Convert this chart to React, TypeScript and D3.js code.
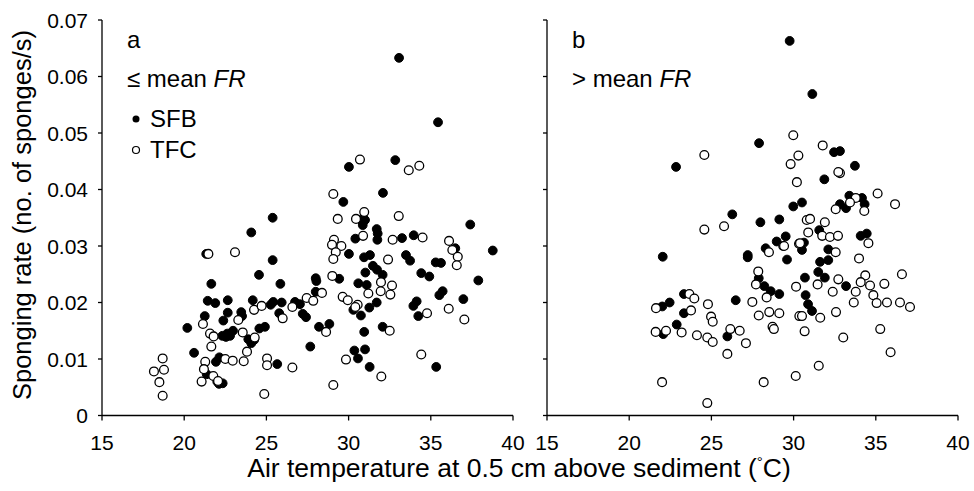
import React from "react";
import * as d3 from "d3";

type P = [number, number];

const xTicks = [15, 20, 25, 30, 35, 40];
const yTicks = [0, 0.01, 0.02, 0.03, 0.04, 0.05, 0.06, 0.07];
const yTickLabels = ["0", "0.01", "0.02", "0.03", "0.04", "0.05", "0.06", "0.07"];

const leftSFB: P[] = [
  [24.08, 0.0324], [25.38, 0.035], [25.38, 0.0275], [24.55, 0.0249], [21.65, 0.0233], [25.85, 0.0233],
  [28.0, 0.0243], [28.0, 0.0219], [21.43, 0.0203], [21.89, 0.0199], [22.65, 0.0204], [24.17, 0.0204],
  [25.42, 0.0201], [25.93, 0.02], [25.26, 0.0196], [26.74, 0.0201], [27.04, 0.0197], [21.25, 0.0176],
  [22.65, 0.0182], [23.47, 0.0183], [23.52, 0.0176], [25.78, 0.0181], [27.21, 0.018], [27.41, 0.0174],
  [22.38, 0.0168], [20.19, 0.0155], [24.57, 0.0154], [24.91, 0.0157], [28.2, 0.0157], [22.32, 0.0141],
  [22.62, 0.0145], [22.97, 0.015], [22.79, 0.0141], [22.54, 0.0139], [23.9, 0.0135], [24.08, 0.0128],
  [24.26, 0.0134], [27.67, 0.0122], [20.6, 0.0111], [22.14, 0.0103], [21.93, 0.0095], [25.66, 0.0091],
  [21.37, 0.0073], [22.01, 0.006], [22.34, 0.0057], [22.12, 0.0056], [21.34, 0.0286],
  [30.02, 0.044], [32.84, 0.0452], [32.09, 0.0394], [29.68, 0.0378], [30.75, 0.0346], [31.0, 0.0346],
  [30.86, 0.0337], [31.71, 0.033], [31.77, 0.0322], [31.75, 0.0311], [30.41, 0.0313], [33.25, 0.0314],
  [33.96, 0.0319], [37.4, 0.0338], [38.77, 0.0292], [30.02, 0.0286], [30.94, 0.028], [31.3, 0.0284],
  [33.49, 0.0284], [33.74, 0.0274], [35.3, 0.0271], [35.62, 0.027], [36.49, 0.0296], [31.48, 0.0265],
  [31.73, 0.0258], [32.07, 0.0249], [31.02, 0.0253], [34.42, 0.0252], [34.91, 0.0246], [29.43, 0.0242],
  [37.89, 0.0239], [28.04, 0.0238], [30.59, 0.0234], [31.1, 0.0231], [31.71, 0.02], [31.26, 0.0191],
  [30.29, 0.0187], [30.75, 0.0177], [35.52, 0.0213], [35.72, 0.022], [34.14, 0.0202], [33.94, 0.0194],
  [34.24, 0.0176], [36.98, 0.0206], [28.83, 0.0162], [30.95, 0.0148], [32.07, 0.0157], [30.35, 0.0115],
  [31.0, 0.0117], [30.57, 0.0101], [31.28, 0.0086], [35.33, 0.0086], [33.07, 0.0633], [35.44, 0.0519],
];

const leftTFC: P[] = [
  [21.47, 0.0286], [23.09, 0.0289], [21.14, 0.0162], [23.29, 0.0169], [24.25, 0.0187], [24.71, 0.0194],
  [21.57, 0.0145], [21.79, 0.014], [21.65, 0.0122], [23.56, 0.0147], [24.29, 0.0138], [23.82, 0.0113],
  [22.5, 0.01], [22.95, 0.0097], [23.62, 0.0096], [21.28, 0.0095], [25.04, 0.0101], [25.04, 0.0089],
  [26.58, 0.0085], [21.2, 0.0082], [21.77, 0.007], [21.06, 0.006], [22.06, 0.0061], [24.87, 0.0038],
  [25.99, 0.0172], [26.58, 0.0192], [27.45, 0.0208], [27.85, 0.0203], [18.69, 0.0101], [18.16, 0.0078],
  [18.77, 0.0081], [18.49, 0.0059], [18.69, 0.0035], [30.69, 0.0453], [33.66, 0.0434], [34.3, 0.0442],
  [29.07, 0.0392], [29.34, 0.0348], [30.45, 0.0348], [30.95, 0.036], [33.05, 0.0353], [30.88, 0.0318],
  [32.68, 0.0311], [34.5, 0.0315], [29.11, 0.0311], [28.99, 0.0302], [29.56, 0.03], [29.22, 0.0289],
  [29.07, 0.0277], [36.11, 0.0309], [36.31, 0.0293], [36.64, 0.0281], [36.58, 0.0266], [32.4, 0.0276],
  [29.01, 0.0247], [28.38, 0.0217], [29.64, 0.021], [29.95, 0.0204], [30.55, 0.0196], [30.41, 0.0192],
  [31.2, 0.0216], [31.97, 0.0236], [31.95, 0.022], [32.64, 0.023], [32.54, 0.0214], [28.63, 0.0148],
  [32.5, 0.015], [34.77, 0.0181], [36.09, 0.0189], [37.04, 0.017], [29.84, 0.0099], [34.42, 0.0108],
  [31.99, 0.0069], [29.07, 0.0054],
];

const rightSFB: P[] = [
  [22.04, 0.0281], [27.21, 0.0284], [27.21, 0.028], [28.3, 0.0296], [28.97, 0.0308], [29.52, 0.0317],
  [29.6, 0.0276], [27.88, 0.0243], [28.22, 0.0229], [28.61, 0.022], [29.13, 0.0215], [23.33, 0.0215],
  [22.46, 0.02], [22.01, 0.0193], [23.33, 0.0181], [22.89, 0.0161], [22.07, 0.0144], [26.48, 0.0204],
  [25.97, 0.014], [27.9, 0.0482], [22.85, 0.044], [26.27, 0.0356], [27.98, 0.0342], [29.76, 0.0663],
  [31.14, 0.0569], [32.46, 0.0466], [32.82, 0.0468], [33.73, 0.0442], [31.87, 0.0418], [29.98, 0.037],
  [30.51, 0.0377], [33.39, 0.0389], [32.82, 0.0374], [33.19, 0.0367], [34.16, 0.0385], [34.32, 0.0374],
  [29.13, 0.0347], [31.56, 0.0328], [30.51, 0.0293], [30.63, 0.0306], [32.11, 0.0294], [31.61, 0.0272],
  [32.11, 0.0275], [31.5, 0.0254], [34.08, 0.0318], [34.45, 0.0322], [30.69, 0.0244], [31.9, 0.0244],
  [30.73, 0.0213], [30.88, 0.0197], [31.12, 0.0185], [33.19, 0.0229],
];

const rightTFC: P[] = [
  [27.85, 0.0255], [27.71, 0.0232], [28.5, 0.0289], [29.37, 0.03], [30.33, 0.0304], [30.15, 0.0228],
  [30.35, 0.0176], [30.13, 0.007], [23.66, 0.0215], [23.96, 0.0207], [21.63, 0.019], [23.76, 0.0186],
  [24.79, 0.0197], [24.98, 0.0175], [25.08, 0.0166], [21.61, 0.0148], [22.24, 0.015], [23.19, 0.0147],
  [24.12, 0.0142], [24.75, 0.0138], [25.08, 0.013], [26.15, 0.0153], [26.72, 0.015], [27.1, 0.0128],
  [25.97, 0.0109], [27.49, 0.0201], [28.36, 0.0209], [27.88, 0.0177], [28.52, 0.0183], [29.13, 0.0181],
  [28.72, 0.0157], [28.8, 0.0153], [22.0, 0.0059], [28.18, 0.0059], [24.75, 0.0022], [24.57, 0.0461],
  [25.77, 0.0335], [24.57, 0.0329], [29.98, 0.0496], [31.77, 0.0478], [30.29, 0.046], [29.82, 0.0445],
  [32.82, 0.0429], [32.72, 0.0431], [30.2, 0.0413], [35.11, 0.0393], [36.17, 0.0374], [33.78, 0.0385],
  [33.43, 0.0377], [32.56, 0.0365], [34.3, 0.0362], [30.8, 0.0346], [31.0, 0.0348], [31.9, 0.0342],
  [30.89, 0.0324], [31.74, 0.0318], [32.21, 0.0316], [32.7, 0.0318], [30.39, 0.0305], [29.42, 0.03],
  [34.55, 0.0305], [32.56, 0.0289], [33.98, 0.0278], [32.72, 0.0241], [34.36, 0.0248], [36.59, 0.025],
  [31.46, 0.0232], [32.38, 0.0219], [32.58, 0.0183], [30.51, 0.0176], [31.62, 0.0173], [30.67, 0.0149],
  [33.02, 0.0138], [31.53, 0.0088], [34.08, 0.0236], [34.65, 0.023], [35.52, 0.0233], [33.78, 0.0219],
  [34.85, 0.0213], [33.66, 0.02], [35.05, 0.0199], [35.68, 0.02], [36.47, 0.02], [37.08, 0.0192],
  [35.27, 0.0153], [35.9, 0.0112],
];

const FONT = "'Liberation Sans', Arial, sans-serif";
const W = 974;
const H = 491;
const R = 4.4;

const y = d3.scaleLinear().domain([0, 0.07]).range([415.5, 20]);

function Panel({ x0, x1, showY, sfb, tfc, letter, sign }: any) {
  const x = d3.scaleLinear().domain([15, 40]).range([x0, x1]);
  const y0 = y(0);
  return (
    <g>
      <line x1={x0} x2={x0} y1={y(0.07)} y2={y0} stroke="#000" strokeWidth={1.3} />
      <line x1={x0} x2={x1} y1={y0} y2={y0} stroke="#000" strokeWidth={1.3} />
      {yTicks.map((t, i) => (
        <g key={"y" + i}>
          <line x1={x0 - 4} x2={x0} y1={y(t)} y2={y(t)} stroke="#000" strokeWidth={1.3} />
          {showY && (
            <text x={x0 - 14} y={y(t) + 7.5} textAnchor="end" fontSize={21} fontFamily={FONT}>
              {yTickLabels[i]}
            </text>
          )}
        </g>
      ))}
      {xTicks.map((t) => (
        <g key={"x" + t}>
          <line x1={x(t)} x2={x(t)} y1={y0} y2={y0 + 5} stroke="#000" strokeWidth={1.3} />
          <text x={x(t)} y={y0 + 34} textAnchor="middle" fontSize={21} fontFamily={FONT}>
            {t}
          </text>
        </g>
      ))}
      {sfb.map((d: P, i: number) => (
        <circle key={"f" + i} cx={x(d[0])} cy={y(d[1])} r={R} fill="#000" stroke="#000" strokeWidth={1} />
      ))}
      {tfc.map((d: P, i: number) => (
        <circle key={"o" + i} cx={x(d[0])} cy={y(d[1])} r={R} fill="#fff" stroke="#000" strokeWidth={1.3} />
      ))}
      <text x={x0 + 25} y={48} fontSize={24} fontFamily={FONT}>{letter}</text>
      <text x={x0 + 25} y={87} fontSize={24} fontFamily={FONT}>
        {sign} mean <tspan fontStyle="italic">FR</tspan>
      </text>
    </g>
  );
}

export default function App() {
  return (
    <svg width={W} height={H} style={{ position: "absolute", left: 0, top: 0, background: "#fff" }}>
      <rect width={W} height={H} fill="#fff" />
      <Panel x0={102} x1={513} showY={true} sfb={leftSFB} tfc={leftTFC} letter="a" sign="≤" />
      <Panel x0={547} x1={958} showY={false} sfb={rightSFB} tfc={rightTFC} letter="b" sign=">" />
      <circle cx={136} cy={119} r={3.5} fill="#000" />
      <text x={150} y={127} fontSize={24} fontFamily={FONT}>SFB</text>
      <circle cx={136} cy={150} r={3.5} fill="#fff" stroke="#000" strokeWidth={1.2} />
      <text x={150} y={158} fontSize={24} fontFamily={FONT}>TFC</text>
      <text
        transform="translate(31,215) rotate(-90)"
        textAnchor="middle"
        fontSize={25.5}
        fontFamily={FONT}
      >
        Sponging rate (no. of sponges/s)
      </text>
      <text x={519} y={477} textAnchor="middle" fontSize={26.5} fontFamily={FONT}>
        Air temperature at 0.5 cm above sediment (
        <tspan fontSize={15} dy={-10}>°</tspan>
        <tspan dy={10}>C)</tspan>
      </text>
    </svg>
  );
}
